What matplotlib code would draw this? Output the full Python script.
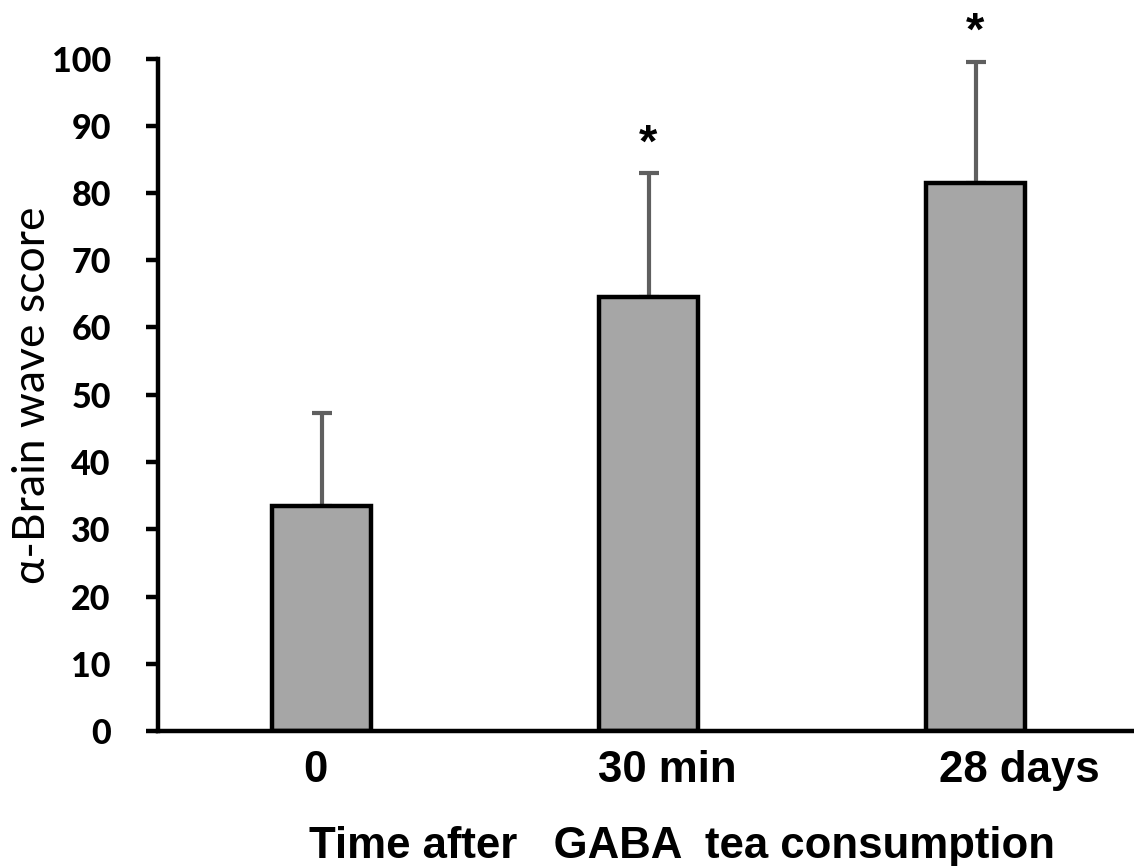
import matplotlib
matplotlib.use("Agg")
import matplotlib.pyplot as plt
import numpy as np

# values
categories = ['0', '30 min', '28 days']
means = [33.5, 64.5, 81.5]
errors = [13.8, 18.4, 18.0]
signif = ['', '*', '*']
y_ticks = [0, 10, 20, 30, 40, 50, 60, 70, 80, 90, 100]

# the category labels sit a little off the bar centres in the original
label_shift = [-0.02, 0.058, 0.133]

W, H = 1134, 866
fig = plt.figure(figsize=(W / 100, H / 100), dpi=100)
ax = fig.add_axes([158 / W, (H - 731) / H, 981 / W, (731 - 58.5) / H])

x = np.arange(len(categories))
ax.bar(x, means, width=0.303, color='#a6a6a6', edgecolor='black',
       linewidth=3.2, zorder=2)
ax.errorbar(x, means, yerr=[np.zeros(len(errors)), errors], fmt='none',
            ecolor='#5f5f5f', elinewidth=3, capsize=7.5, capthick=3,
            zorder=1)

for xi, m, e, s in zip(x, means, errors, signif):
    if s:
        ax.annotate(s, (xi, m + e), xytext=(0, 12), textcoords='offset points',
                    ha='center', va='baseline', fontsize=34,
                    family='Liberation Sans', fontweight='bold')

ax.set_xlim(-0.5, 2.5)
ax.set_ylim(0, 100)

ax.spines['top'].set_visible(False)
ax.spines['right'].set_visible(False)
ax.spines['left'].set_linewidth(3.2)
ax.spines['bottom'].set_linewidth(3.2)

ax.set_yticks(y_ticks)
ax.set_yticklabels([str(v) for v in y_ticks], family='Lato',
                   fontweight='black', fontsize=24.5)
ax.tick_params(axis='y', direction='out', length=9, width=3.2, pad=25)

ax.set_xticks(x + np.array(label_shift))
ax.set_xticklabels(categories, family='Liberation Sans', fontweight='bold',
                   fontsize=31.5)
ax.tick_params(axis='x', length=0, pad=14)

fig.text(682 / W, (H - 858) / H, 'Time after   GABA  tea consumption',
         ha='center', va='baseline', family='Liberation Sans',
         fontweight='bold', fontsize=31.5)
fig.text(33 / W, (H - 395) / H, 'α-Brain wave score', rotation=90,
         ha='center', va='center', family='Lato', fontsize=32)

fig.savefig('out.png', dpi=100)
